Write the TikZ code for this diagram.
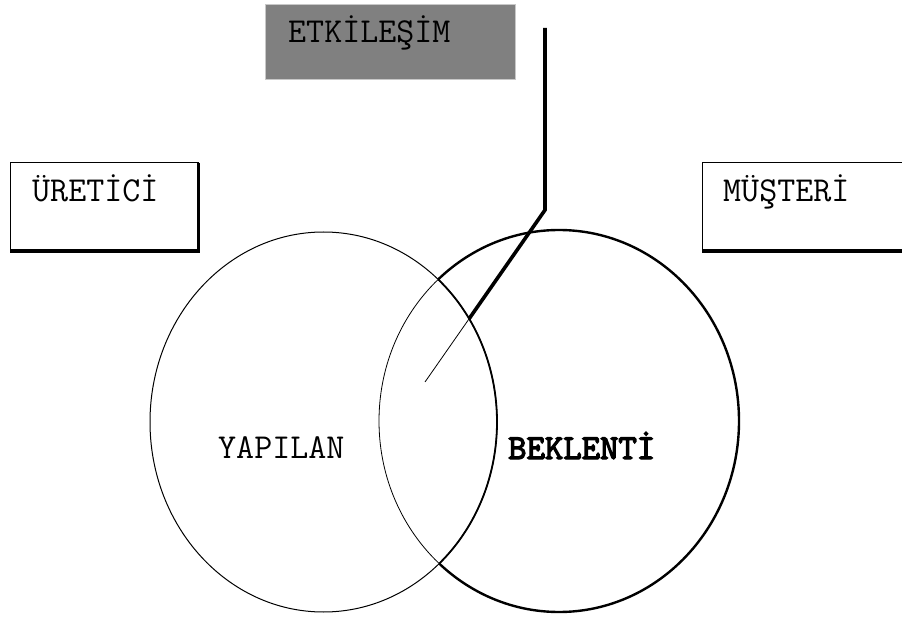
\documentclass[tikz,border=0pt]{standalone}
\usepackage{fontspec}
\newfontfamily\heavytt[FakeBold=3.5]{lmmono10-regular.otf}
\begin{document}
\begin{tikzpicture}[x=1pt,y=-1pt,
  lbl/.style={font=\ttfamily\fontsize{35}{35}\selectfont, inner sep=0pt, anchor=base west},
  framebox/.style={draw=black, line width=1pt},
  thickline/.style={line width=3.6pt, line join=miter},
  thinline/.style={line width=0.8pt}]
\useasboundingbox (0,0) rectangle (902,617);
% named points
\coordinate (lc) at (323.5,422);
\coordinate (rc) at (559,421);
\coordinate (top) at (545,28);
\coordinate (bend) at (545,210);
\coordinate (tip) at (425,382);
% grey title box
\node[fill={rgb,255:red,128;green,128;blue,128}, draw={rgb,255:red,200;green,200;blue,200}, line width=0.6pt, minimum width=250pt, minimum height=75pt, inner sep=0pt, anchor=north west] (etk) at (265,4) {};
\node[lbl] (etkt) at (288,43) {ETKİLEŞİM};
% side boxes
\draw[framebox] (10,163) rectangle (198,250);
\draw[line width=3pt] (198,163) -- (198,251.5) -- (10,251.5);
\node[lbl] (uret) at (32,202) {ÜRETİCİ};
\draw[framebox] (905,163) -- (702,163) -- (702,250) -- (905,250);
\draw[line width=3pt] (702,251.5) -- (905,251.5);
\node[lbl] (must) at (723,202) {MÜŞTERİ};
% right ellipse and connector (thick outside left ellipse)
\draw[line width=2.4pt] (rc) ellipse [x radius=180, y radius=191];
\draw[thickline] (top) -- (bend) -- (tip);
% inside the left ellipse they look thin
\begin{scope}
  \clip (lc) ellipse [x radius=173.5, y radius=190];
  \fill[white] (lc) ellipse [x radius=173.5, y radius=190];
  \draw[thinline] (rc) ellipse [x radius=180, y radius=191];
  \draw[thinline] (bend) -- (tip);
\end{scope}
% left ellipse
\draw[line width=1pt] (lc) ellipse [x radius=173.5, y radius=190];
\begin{scope}
  \clip (rc) ellipse [x radius=180, y radius=191];
  \draw[line width=1.8pt] (lc) ellipse [x radius=173.5, y radius=190];
\end{scope}
% labels
\node[lbl] (yap) at (218,458) {YAPILAN};
\node[lbl, font=\heavytt\fontsize{35}{35}\selectfont] (bek) at (508,459) {BEKLENTİ};
\end{tikzpicture}
\end{document}
